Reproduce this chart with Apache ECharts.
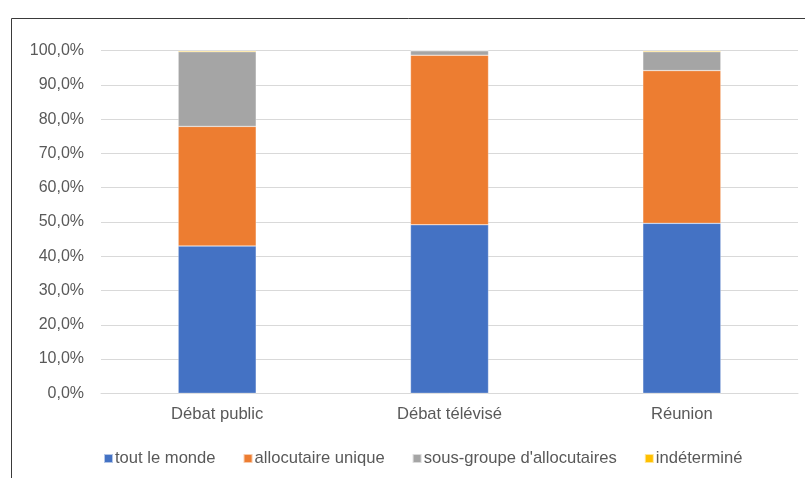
<!DOCTYPE html>
<html>
<head>
<meta charset="utf-8">
<script src="https://cdn.jsdelivr.net/npm/echarts@6/dist/echarts.min.js"></script>
<style>html,body{margin:0;padding:0;background:#fff}#c{width:805px;height:478px}</style>
</head>
<body>
<div id="c"></div>
<script>
const categories = ['Débat public', 'Débat télévisé', 'Réunion'];
const toutLeMonde = [43.0, 49.2, 49.6];
const allocataireUnique = [34.9, 49.5, 44.6];
const sousGroupe = [21.8, 1.3, 5.5];
const indetermine = [0.3, 0.0, 0.3];
const seriesNames = ['tout le monde', 'allocutaire unique', "sous-groupe d'allocutaires", 'indéterminé'];
const colors = ['#4472C4', '#ED7D31', '#A5A5A5', '#FFC000'];

const font = 'Liberation Sans';
const chart = echarts.init(document.getElementById('c'), null, {renderer: 'canvas'});
const dataSets = [toutLeMonde, allocataireUnique, sousGroupe, indetermine];
chart.setOption({
  animation: false,
  color: colors,
  textStyle: {fontFamily: font},
  graphic: [{
    type: 'rect', left: 9, top: 16, silent: true,
    shape: {width: 1000, height: 1000},
    style: {fill: 'none', stroke: '#3a3a3a', lineWidth: 1}
  }],
  grid: {left: 101, right: 7, top: 50.7, bottom: 84.7, containLabel: false},
  legend: {
    left: 98, top: 445,
    itemWidth: 9, itemHeight: 9, itemGap: 27,
    icon: 'rect',
    textStyle: {color: '#595959', fontSize: 16.6, fontFamily: font, padding: [0, 0, 0, -3]},
    data: seriesNames
  },
  xAxis: {
    type: 'category', data: categories,
    axisLine: {show: true, lineStyle: {color: '#d9d9d9', width: 1}},
    axisTick: {show: false},
    axisLabel: {color: '#595959', fontSize: 16.6, fontFamily: font, margin: 13}
  },
  yAxis: {
    type: 'value', min: 0, max: 100, interval: 10,
    axisLine: {show: false}, axisTick: {show: false},
    splitLine: {lineStyle: {color: '#d9d9d9', width: 1}},
    axisLabel: {
      color: '#595959', fontSize: 16, fontFamily: font, margin: 17,
      formatter: v => v.toFixed(1).replace('.', ',') + '%'
    }
  },
  series: dataSets.map((d, i) => ({
    name: seriesNames[i], type: 'bar', stack: 'total', data: d,
    barWidth: 78,
    itemStyle: {color: colors[i], borderColor: 'rgba(255,255,255,0.6)', borderWidth: 0.5}
  }))
});
</script>
</body>
</html>
